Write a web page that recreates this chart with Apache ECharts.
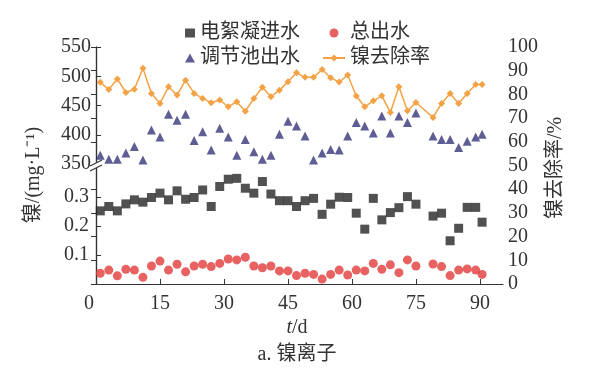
<!DOCTYPE html>
<html><head><meta charset="utf-8">
<script src="https://cdn.jsdelivr.net/npm/echarts@6/dist/echarts.min.js"></script>
<style>html,body{margin:0;padding:0;background:#fff}#c{width:595px;height:379px}</style>
</head><body><div id="c"></div>
<script>
// sampling days (t/d)
const days = [1,3,5,7,9,11,13,15,17,19,21,23,25,27,29,31,33,35,37,39,41,43,45,47,49,51,53,55,57,
  59,61,63,65,67,69,71,73,75,79,81,83,85,87,89,90.5];
// 电絮凝进水 (mg/L)
const ecInflow = [0.252,0.267,0.252,0.276,0.290,0.282,0.298,0.313,0.290,0.321,0.292,0.298,0.324,0.267,0.336,0.361,0.364,0.330,0.313,0.353,0.310,0.287,0.287,0.267,0.287,0.295,0.240,0.275,0.299,
  0.298,0.244,0.189,0.295,0.221,0.246,0.263,0.301,0.275,0.234,0.244,0.149,0.192,0.264,0.264,0.213];
// 总出水 (mg/L)
const totalOut = [0.037,0.048,0.028,0.051,0.048,0.023,0.062,0.079,0.048,0.068,0.042,0.062,0.068,0.060,0.071,0.086,0.083,0.092,0.062,0.056,0.062,0.045,0.045,0.029,0.037,0.033,0.017,0.033,0.048,
  0.031,0.048,0.045,0.071,0.051,0.066,0.039,0.083,0.062,0.069,0.060,0.029,0.048,0.052,0.048,0.033];
// 调节池出水 (mg/L)
const tankOut = [365,358,358,369,380,357,408,396,435,425,435,390,405,374,411,396,365,392,371,358,365,401,423,415,398,357,369,375,374,
  398,421,415,403,432,403,432,421,437,398,392,392,378,389,396,401];
// 镍去除率 (%)
const removal = [85.1,82.1,86.5,80.8,82.2,91.0,80.4,76.2,83.2,79.7,86.0,80.4,78.3,76.5,77.6,74.8,76.9,72.9,78.3,83.0,79.0,81.8,85.3,89.1,87.2,87.2,90.5,87.0,85.2,
  88.2,79.3,74.8,77.3,79.4,72.4,83.2,73.1,76.6,70.3,76.2,80.4,76.2,80.4,84.2,84.2];

const xTicks = [0,15,30,45,60,75,90];
const upperTicks = [350,400,450,500,550];
const lowerTicks = [0.1,0.2,0.3];

const FONT = '"Liberation Serif","Noto Sans CJK SC",serif';
const TXT = '#333';
const FS = 20;
const pair = (xs, ys) => xs.map((x, i) => [x, ys[i]]);

const chart = echarts.init(document.getElementById('c'), null, {renderer: 'canvas'});
const axisLine = {show: true, lineStyle: {color: '#333', width: 1.2}};
const lab = {color: TXT, fontFamily: FONT, fontSize: FS};

const option = {
  animation: false,
  backgroundColor: '#fff',
  grid: [
    {left: 96, width: 407, top: 47, height: 117},
    {left: 96, width: 407, top: 165, height: 119},
    {left: 96, width: 407, top: 47, height: 237}
  ],
  xAxis: [
    {gridIndex: 0, type: 'value', min: 0, max: 95.4, show: false},
    {gridIndex: 1, type: 'value', min: 0, max: 95.4,
      axisLine: axisLine,
      axisTick: {show: true, inside: true, length: 5, customValues: xTicks, lineStyle: {color: '#333'}},
      axisLabel: Object.assign({}, lab, {margin: 10, customValues: xTicks,
        formatter: v => v === 0 ? '{z|0}' : String(v),
        rich: {z: {fontFamily: FONT, fontSize: FS, color: TXT, padding: [0, 14, 0, 0]}}}),
      splitLine: {show: false}},
    {gridIndex: 2, type: 'value', min: 0, max: 95.4, show: false}
  ],
  yAxis: [
    {gridIndex: 0, type: 'value', min: 350, max: 550, interval: 50, position: 'left',
      axisLine: axisLine,
      axisTick: {show: true, inside: true, length: 5, customValues: upperTicks, lineStyle: {color: '#333'}},
      axisLabel: Object.assign({}, lab, {margin: 5, customValues: upperTicks}),
      splitLine: {show: false}},
    {gridIndex: 1, type: 'value', min: 0, max: 0.41, position: 'left',
      axisLine: axisLine,
      axisTick: {show: true, inside: true, length: 5, customValues: lowerTicks, lineStyle: {color: '#333'}},
      axisLabel: Object.assign({}, lab, {margin: 7, customValues: lowerTicks}),
      splitLine: {show: false}},
    {gridIndex: 2, type: 'value', min: 0, max: 100, interval: 10, position: 'right',
      axisLine: axisLine,
      axisTick: {show: true, inside: true, length: 5, lineStyle: {color: '#333'}},
      axisLabel: Object.assign({}, lab, {margin: 5}),
      splitLine: {show: false}}
  ],
  legend: [
    {data: ['电絮凝进水', '调节池出水'], orient: 'vertical', left: 180, top: 18,
      itemWidth: 10, itemHeight: 9, itemGap: 5,
      textStyle: {fontFamily: FONT, fontSize: FS, color: TXT, lineHeight: 20}},
    {data: ['总出水', '镍去除率'], orient: 'vertical', left: 317, top: 18,
      itemWidth: 22, itemHeight: 9, itemGap: 5,
      textStyle: {fontFamily: FONT, fontSize: FS, color: TXT, lineHeight: 20}}
  ],
  series: [
    {name: '电絮凝进水', type: 'scatter', xAxisIndex: 1, yAxisIndex: 1, symbol: 'rect', symbolSize: 9,
      itemStyle: {color: '#262626'}, data: pair(days, ecInflow)},
    {name: '总出水', type: 'scatter', xAxisIndex: 1, yAxisIndex: 1, symbol: 'circle', symbolSize: 9,
      itemStyle: {color: '#e23b3b'}, data: pair(days, totalOut)},
    {name: '调节池出水', type: 'scatter', xAxisIndex: 0, yAxisIndex: 0, symbol: 'triangle', symbolSize: 9,
      itemStyle: {color: '#36367a'}, data: pair(days, tankOut)},
    {name: '镍去除率', type: 'line', xAxisIndex: 2, yAxisIndex: 2, symbol: 'diamond', symbolSize: 7,
      itemStyle: {color: '#f3a246'}, lineStyle: {color: '#f3a246', width: 1.5}, data: pair(days, removal)}
  ],
  graphic: [
    {type: 'polygon', z: 100, shape: {points: [[90, 166], [102, 160], [102, 165], [90, 171]]},
      style: {fill: '#fff'}},
    {type: 'line', z: 101, shape: {x1: 90, y1: 166, x2: 102, y2: 160}, style: {stroke: '#333', lineWidth: 1.2}},
    {type: 'line', z: 101, shape: {x1: 90, y1: 171, x2: 102, y2: 165}, style: {stroke: '#333', lineWidth: 1.2}},
    {type: 'text', x: 34, y: 175, rotation: Math.PI / 2,
      style: {text: '镍/(mg·L⁻¹)', font: FS + 'px ' + FONT, fill: TXT, align: 'center', verticalAlign: 'middle'}},
    {type: 'text', x: 556, y: 168, rotation: Math.PI / 2,
      style: {text: '镍去除率/%', font: FS + 'px ' + FONT, fill: TXT, align: 'center', verticalAlign: 'middle'}},
    {type: 'text', x: 297, y: 328,
      style: {text: '{i|t}/d', rich: {i: {fontStyle: 'italic', fontFamily: FONT, fontSize: FS, fill: TXT}},
        font: FS + 'px ' + FONT, fill: TXT, align: 'center', verticalAlign: 'middle'}},
    {type: 'text', x: 297, y: 355,
      style: {text: 'a. 镍离子', font: FS + 'px ' + FONT, fill: TXT, align: 'center', verticalAlign: 'middle'}}
  ]
};
chart.setOption(option);
</script>
</body></html>
